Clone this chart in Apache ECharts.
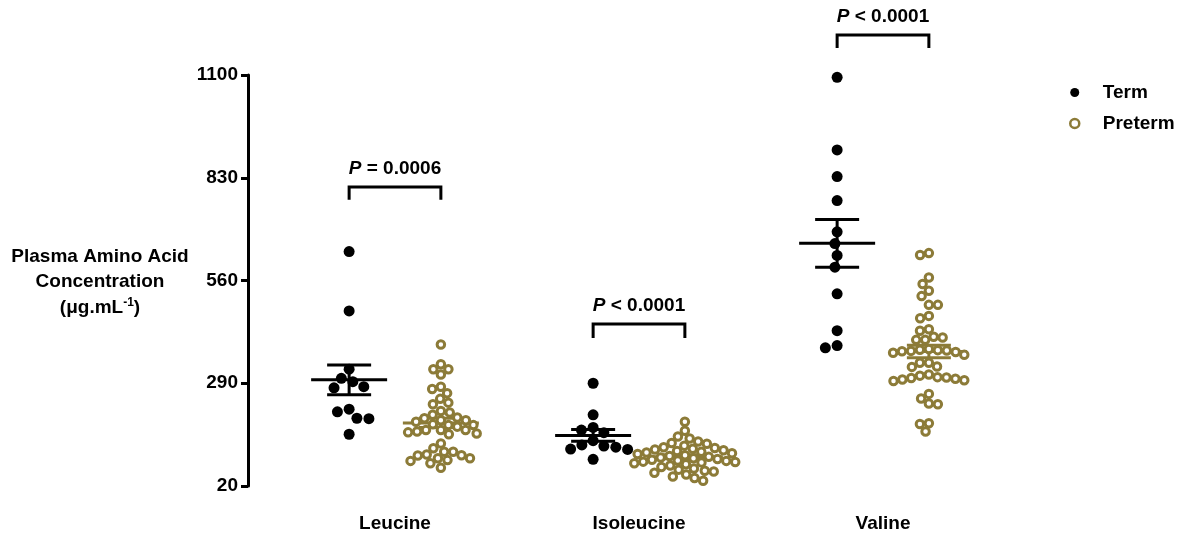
<!DOCTYPE html>
<html><head><meta charset="utf-8">
<script src="https://cdn.jsdelivr.net/npm/echarts@6/dist/echarts.min.js"></script>
<style>html,body{margin:0;padding:0;background:#fff}#c{width:1186px;height:534px}</style>
</head><body><div id="c"></div>
<script>
// ---------------- data ----------------
const categories = ['Leucine', 'Isoleucine', 'Valine'];
const seriesNames = ['Term', 'Preterm'];
const yTicks = [20, 290, 560, 830, 1100];

const termLeucine = [636, 480, 327, 303, 294, 281, 278, 222, 215, 198, 197, 156];
const pretermLeucine = [392, 340, 327, 327, 313, 281, 275, 264, 249, 239, 235,
  217, 213, 207, 200, 198, 193, 193, 189, 182, 180, 180, 176, 167, 167, 167, 163, 161, 158, 156,
  132, 119, 110, 110, 103, 101, 100, 93, 93, 88, 86, 80, 68];

const termIsoleucine = [290, 207, 174, 167, 160, 139, 128, 125, 122, 117, 116, 90];
const pretermIsoleucine = [189, 165, 150, 145, 137, 133, 131, 126, 122, 120, 118, 116, 114, 112, 110,
  108, 106, 104, 101, 99, 97, 95, 93, 91, 89, 87, 86, 84, 83, 82, 80, 77, 74, 70, 66,
  63, 60, 58, 55, 50, 45, 41, 34];

const termValine = [1094, 903, 833, 770, 688, 657, 626, 595, 525, 428, 389, 383];
const pretermValine = [632, 627, 568, 551, 533, 519, 496, 496, 467, 461, 432, 428, 412, 410, 404, 404,
  380, 378, 377, 376, 375, 374, 372, 370, 365, 344, 344, 334, 333, 313, 310, 306, 305, 304, 302, 300,
  298, 296, 262, 250, 237, 235, 185, 183, 163];

const pLabels = ['= 0.0006', '< 0.0001', '< 0.0001'];

// ---------------- layout / style ----------------
const FONT = '"Liberation Sans", Arial, Helvetica, sans-serif';
const OLIVE = '#8c7b38';
const TERM_OFF = -0.188, PRE_OFF = 0.188;
const bracketLevels = [[772, 806], [409, 446], [1171, 1205]]; // [leg bottom, bracket top] in axis units
const termGroups = [termLeucine, termIsoleucine, termValine];
const pretermGroups = [pretermLeucine, pretermIsoleucine, pretermValine];

function mean(a) { return a.reduce((s, v) => s + v, 0) / a.length; }
function sem(a) {
  const m = mean(a);
  const sd = Math.sqrt(a.reduce((s, v) => s + (v - m) * (v - m), 0) / (a.length - 1));
  return sd / Math.sqrt(a.length);
}

function swarm(ys, D) {
  const idx = ys.map((_, i) => i).sort((a, b) => ys[a] - ys[b]);
  const placed = [];
  const off = new Array(ys.length).fill(0);
  for (const i of idx) {
    const y = ys[i];
    const cands = [0];
    for (const p of placed) {
      const dy = Math.abs(p.y - y);
      if (dy < D) {
        const dx = Math.sqrt(D * D - dy * dy);
        cands.push(p.x + dx, p.x - dx);
      }
    }
    cands.sort((a, b) => Math.abs(a) - Math.abs(b) || a - b);
    let chosen = 0;
    for (const c of cands) {
      if (placed.every(p => (p.x - c) * (p.x - c) + (p.y - y) * (p.y - y) >= D * D - 1e-6)) { chosen = c; break; }
    }
    placed.push({ x: chosen, y: y });
    off[i] = chosen;
  }
  return off;
}

function buildScatter(groups, off, jit) {
  const out = [];
  groups.forEach((g, gi) => g.forEach((v, i) => out.push([gi + off + (jit ? jit[gi][i] : 0), v])));
  return out;
}

function statsRenderer(color) {
  return function (params, api) {
    const x = api.value(0), m = api.value(1), s = api.value(2);
    const c = api.coord([x, m]);
    const t = api.coord([x, m + s]);
    const b = api.coord([x, m - s]);
    const hw = 38, cw = 22;
    const st = { stroke: color, lineWidth: 3 };
    return {
      type: 'group', children: [
        { type: 'line', shape: { x1: c[0] - hw, y1: c[1], x2: c[0] + hw, y2: c[1] }, style: st },
        { type: 'line', shape: { x1: c[0], y1: t[1], x2: c[0], y2: b[1] }, style: st },
        { type: 'line', shape: { x1: c[0] - cw, y1: t[1], x2: c[0] + cw, y2: t[1] }, style: st },
        { type: 'line', shape: { x1: c[0] - cw, y1: b[1], x2: c[0] + cw, y2: b[1] }, style: st }
      ]
    };
  };
}

const richP = {
  i: { fontFamily: FONT, fontSize: 19, fontWeight: 'bold', fontStyle: 'italic', fill: '#000' },
  b: { fontFamily: FONT, fontSize: 19, fontWeight: 'bold', fill: '#000' }
};

function bracketRenderer(params, api) {
  const gi = api.value(0);
  const leg = api.value(1), top = api.value(2);
  const a = api.coord([gi + TERM_OFF, leg]);
  const aT = api.coord([gi + TERM_OFF, top]);
  const bP = api.coord([gi + PRE_OFF, leg]);
  const st = { stroke: '#000', lineWidth: 3, fill: null };
  return {
    type: 'group', children: [
      { type: 'polyline', shape: { points: [[a[0], a[1]], [a[0], aT[1]], [bP[0], aT[1]], [bP[0], bP[1]]] }, style: st },
      { type: 'text', x: (a[0] + bP[0]) / 2, y: aT[1] - 18,
        style: { text: '{i|P}{b| ' + pLabels[gi] + '}', rich: richP, align: 'center', verticalAlign: 'middle' } }
    ]
  };
}

const chart = echarts.init(document.getElementById('c'), null, { renderer: 'canvas' });

const option = {
  animation: false,
  backgroundColor: '#fff',
  grid: { left: 273, right: 181, top: 75, bottom: 48 },
  xAxis: {
    type: 'value', min: -0.5, max: 2.5,
    axisLine: { show: false, onZero: false }, axisTick: { show: false }, splitLine: { show: false },
    axisLabel: {
      customValues: [0, 1, 2],
      formatter: v => categories[Math.round(v)],
      fontFamily: FONT, fontSize: 19, fontWeight: 'bold', color: '#000', margin: 28
    }
  },
  yAxis: {
    type: 'value', min: 20, max: 1100, offset: 25,
    axisLine: { show: true, onZero: false, lineStyle: { color: '#000', width: 3 } },
    axisTick: { show: true, customValues: yTicks, length: 7, lineStyle: { color: '#000', width: 3 } },
    axisLabel: { customValues: yTicks, formatter: v => String(v), fontFamily: FONT, fontSize: 19, fontWeight: 'bold', color: '#000', margin: 10 },
    splitLine: { show: false }
  },
  legend: {
    orient: 'vertical', left: 1064, top: 78, itemWidth: 46, itemHeight: 9, itemGap: 12,
    textStyle: { fontFamily: FONT, fontSize: 19, fontWeight: 'bold', color: '#000' },
    data: [
      { name: seriesNames[0], icon: 'circle', itemStyle: { color: '#000', borderWidth: 0, opacity: 1 } },
      { name: seriesNames[1], icon: 'circle', itemStyle: { color: '#fff', borderColor: OLIVE, borderWidth: 2.5, opacity: 1 } }
    ]
  },
  graphic: [
    { type: 'text', x: 100, y: 257, style: { text: 'Plasma Amino Acid', font: 'bold 19px ' + FONT, fill: '#000', align: 'center', verticalAlign: 'middle' } },
    { type: 'text', x: 100, y: 282, style: { text: 'Concentration', font: 'bold 19px ' + FONT, fill: '#000', align: 'center', verticalAlign: 'middle' } },
    { type: 'text', x: 100, y: 308, style: {
        text: '{b|(\u03bcg.mL}{s|-1}{b|)}', align: 'center', verticalAlign: 'middle',
        rich: {
          b: { fontFamily: FONT, fontSize: 19, fontWeight: 'bold', fill: '#000', lineHeight: 22 },
          s: { fontFamily: FONT, fontSize: 12, fontWeight: 'bold', fill: '#000', lineHeight: 12, verticalAlign: 'top' }
        } } }
  ],
  series: [
    { id: 'term', name: seriesNames[0], type: 'scatter', symbol: 'circle', symbolSize: 11, z: 3,
      itemStyle: { color: '#000', opacity: 1 }, data: buildScatter(termGroups, TERM_OFF) },
    { id: 'pre', name: seriesNames[1], type: 'scatter', symbol: 'circle', symbolSize: 7.5, z: 3,
      itemStyle: { color: '#fff', borderColor: OLIVE, borderWidth: 3, opacity: 1 }, data: buildScatter(pretermGroups, PRE_OFF) },
    { id: 'termStats', type: 'custom', z: 5, silent: true, renderItem: statsRenderer('#000'),
      data: termGroups.map((g, i) => [i + TERM_OFF, mean(g), sem(g)]) },
    { id: 'preStats', type: 'custom', z: 2, silent: true, renderItem: statsRenderer(OLIVE),
      data: pretermGroups.map((g, i) => [i + PRE_OFF, mean(g), sem(g)]) },
    { id: 'brackets', type: 'custom', z: 5, silent: true, clip: false, renderItem: bracketRenderer,
      data: bracketLevels.map((b, i) => [i, b[0], b[1]]) }
  ]
};
chart.setOption(option);

// beeswarm jitter computed in pixel space via the library's scales
const pxX = chart.convertToPixel({ xAxisIndex: 0 }, 1) - chart.convertToPixel({ xAxisIndex: 0 }, 0);
const yPx = v => chart.convertToPixel({ yAxisIndex: 0 }, v);
const termJit = termGroups.map(g => swarm(g.map(yPx), 12).map(o => o / pxX));
const preJit = pretermGroups.map(g => swarm(g.map(yPx), 9).map(o => o / pxX));
chart.setOption({
  series: [
    { id: 'term', data: buildScatter(termGroups, TERM_OFF, termJit) },
    { id: 'pre', data: buildScatter(pretermGroups, PRE_OFF, preJit) }
  ]
});
</script></body></html>
